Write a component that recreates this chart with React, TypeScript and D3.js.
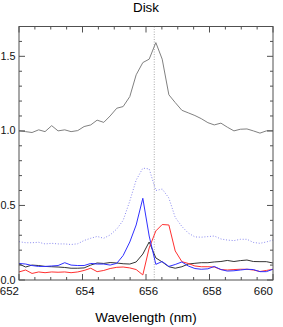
import { line, range, scaleLinear } from 'd3'

// wavelength grid (nm) shared by all spectra
const wavelength = [
  652.0, 652.21, 652.41, 652.62, 652.82, 653.03, 653.23, 653.44, 653.64, 653.85,
  654.05, 654.26, 654.46, 654.67, 654.87, 655.08, 655.28, 655.49, 655.69, 655.9,
  656.1, 656.31, 656.51, 656.72, 656.92, 657.13, 657.33, 657.54, 657.74, 657.95,
  658.15, 658.36, 658.56, 658.77, 658.97, 659.18, 659.38, 659.59, 659.79, 660.0,
]

const grayFlux = [
  1.0, 0.995, 0.989, 1.007, 0.995, 1.035, 1.0, 1.007, 0.995, 1.002,
  1.029, 1.04, 1.072, 1.057, 1.1, 1.152, 1.163, 1.23, 1.376, 1.458,
  1.481, 1.592, 1.481, 1.242, 1.19, 1.138, 1.121, 1.103, 1.082, 1.055,
  1.04, 1.052, 1.025, 1.0, 1.011, 1.013, 1.0, 0.985, 1.0, 1.0,
]

const dottedFlux = [
  0.257, 0.25, 0.25, 0.253, 0.242, 0.246, 0.242, 0.242, 0.238, 0.243,
  0.265, 0.28, 0.292, 0.28, 0.302, 0.342, 0.4, 0.53, 0.67, 0.75,
  0.745, 0.6, 0.61, 0.55, 0.42, 0.359, 0.315, 0.289, 0.287, 0.291,
  0.295, 0.275, 0.268, 0.264, 0.273, 0.273, 0.252, 0.246, 0.255, 0.268,
]

const blueFlux = [
  0.111, 0.107, 0.097, 0.091, 0.091, 0.094, 0.097, 0.116, 0.1, 0.097,
  0.097, 0.111, 0.107, 0.107, 0.1, 0.112, 0.164, 0.255, 0.369, 0.548,
  0.295, 0.105, 0.124, 0.091, 0.104, 0.121, 0.094, 0.077, 0.072, 0.075,
  0.091, 0.07, 0.06, 0.062, 0.067, 0.072, 0.07, 0.056, 0.056, 0.072,
]

const redFlux = [
  0.054, 0.067, 0.044, 0.054, 0.049, 0.054, 0.052, 0.054, 0.049, 0.054,
  0.064, 0.079, 0.056, 0.064, 0.077, 0.085, 0.087, 0.081, 0.07, 0.034,
  0.215, 0.329, 0.372, 0.369, 0.195, 0.123, 0.111, 0.094, 0.089, 0.089,
  0.087, 0.07, 0.067, 0.07, 0.072, 0.072, 0.067, 0.057, 0.064, 0.072,
]

const blackFlux = [
  0.107, 0.087, 0.1, 0.097, 0.091, 0.089, 0.087, 0.084, 0.079, 0.079,
  0.081, 0.1, 0.114, 0.111, 0.117, 0.114, 0.109, 0.107, 0.121, 0.174,
  0.255, 0.148, 0.121, 0.089, 0.079, 0.089, 0.107, 0.112, 0.116, 0.116,
  0.121, 0.124, 0.131, 0.124, 0.13, 0.134, 0.124, 0.123, 0.123, 0.114,
]

const lineCenter = 656.26
const xTicks = [652, 654, 656, 658, 660]
const yTicks = [0, 0.5, 1.0, 1.5]

export default function App() {
  const width = 283
  const height = 327
  const margin = { left: 19, right: 10, top: 26.5, bottom: 47 }
  const x = scaleLinear().domain([652, 660]).range([margin.left, width - margin.right])
  const y = scaleLinear().domain([0, 1.7]).range([height - margin.bottom, margin.top])
  const [x0, x1] = x.range()
  const [y0, y1] = y.range()

  const path = (vals: number[]) =>
    line<number>()
      .x((_, i) => x(wavelength[i]))
      .y((d) => y(d))(vals) ?? ''

  const xMinor = range(652, 660.01, 0.5)
  const yMinor = range(0, 1.701, 0.1)
  const axisColor = '#505050'
  const font = '"Liberation Sans", Arial, sans-serif'

  return (
    <svg width={width} height={height} style={{ position: 'absolute', left: 0, top: 0 }} fontFamily={font}>
      <defs>
        <clipPath id="plot">
          <rect x={x0} y={y1} width={x1 - x0} height={y0 - y1} />
        </clipPath>
      </defs>
      <rect width={width} height={height} fill="#fff" />
      <text x={(x0 + x1) / 2} y={12} textAnchor="middle" fontSize={13.4}>
        Disk
      </text>

      <g clipPath="url(#plot)" fill="none" strokeWidth={1}>
        <line x1={x(lineCenter)} x2={x(lineCenter)} y1={y1} y2={y0} stroke="#aaa" strokeDasharray="1 1.5" />
        <path d={path(dottedFlux)} stroke="#8a8aee" strokeDasharray="1 1.8" />
        <path d={path(grayFlux)} stroke="#808080" />
        <path d={path(blackFlux)} stroke="#333" />
        <path d={path(redFlux)} stroke="#ff3030" />
        <path d={path(blueFlux)} stroke="#3030ff" />
      </g>

      <g stroke={axisColor} strokeWidth={1}>
        {xMinor.map((t) => {
          const len = Math.abs(t % 2) < 1e-6 ? 6 : 3
          return (
            <g key={'x' + t}>
              <line x1={x(t)} x2={x(t)} y1={y0} y2={y0 - len} />
              <line x1={x(t)} x2={x(t)} y1={y1} y2={y1 + len} />
            </g>
          )
        })}
        {yMinor.map((t) => {
          const len = Math.abs(Math.round(t * 10) % 5) === 0 ? 6 : 3
          return (
            <g key={'y' + t}>
              <line x1={x0} x2={x0 + len} y1={y(t)} y2={y(t)} />
              <line x1={x1} x2={x1 - len} y1={y(t)} y2={y(t)} />
            </g>
          )
        })}
        <rect x={x0} y={y1} width={x1 - x0} height={y0 - y1} fill="none" />
      </g>

      <g fill="#111">
        {xTicks.map((t, i) => {
          const edge = i === 0 || i === xTicks.length - 1
          return (
            <text key={t} x={x(t)} dx={edge ? 0 : 2.5} y={294.5} fontSize={11.5} textAnchor={edge ? 'end' : 'middle'}>
              {t}
            </text>
          )
        })}
        {yTicks.map((t) => (
          <text key={t} x={15.5} y={y(t)} dy="0.33em" fontSize={10.8} textAnchor="end">
            {t.toFixed(1)}
          </text>
        ))}
      </g>

      <text x={(x0 + x1) / 2} y={322} textAnchor="middle" fontSize={13.4}>
        Wavelength (nm)
      </text>
    </svg>
  )
}
